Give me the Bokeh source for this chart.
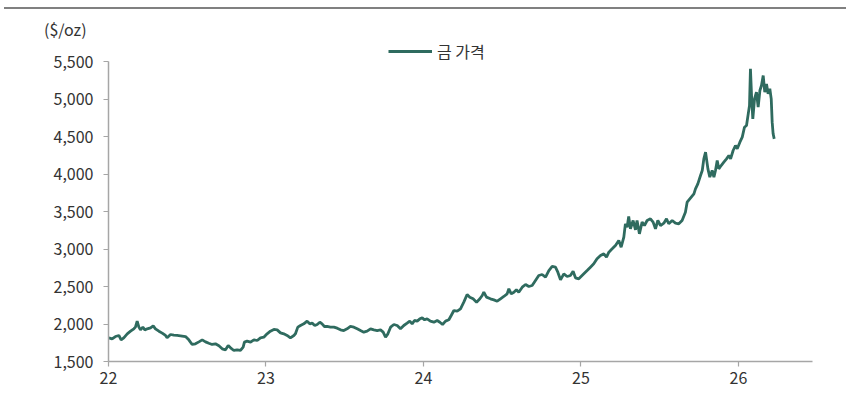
from bokeh.plotting import figure
from bokeh.models import Range1d, FixedTicker, Legend, LegendItem, NumeralTickFormatter, CustomJSTickFormatter, Div, Column
from bokeh.embed import file_html
from bokeh.resources import INLINE

# fractional year (22 = 2022) and gold price ($/oz)
years = [22.002, 22.023, 22.044, 22.066, 22.080, 22.097, 22.119, 22.140, 22.161, 22.171,
         22.182, 22.193, 22.203, 22.218, 22.231, 22.246, 22.267, 22.284, 22.298, 22.320,
         22.341, 22.362, 22.372, 22.394, 22.415, 22.436, 22.457, 22.489, 22.510, 22.531,
         22.552, 22.574, 22.595, 22.616, 22.637, 22.658, 22.679, 22.701, 22.722, 22.743,
         22.760, 22.775, 22.796, 22.817, 22.838, 22.855, 22.863, 22.880, 22.902, 22.923,
         22.944, 22.965, 22.986, 23.007, 23.028, 23.050, 23.071, 23.092, 23.113, 23.134,
         23.155, 23.177, 23.187, 23.202, 23.219, 23.240, 23.261, 23.278, 23.293, 23.310,
         23.325, 23.342, 23.356, 23.371, 23.388, 23.409, 23.431, 23.452, 23.473, 23.494,
         23.515, 23.536, 23.558, 23.579, 23.600, 23.621, 23.642, 23.664, 23.685, 23.706,
         23.727, 23.744, 23.759, 23.774, 23.791, 23.812, 23.833, 23.854, 23.875, 23.896,
         23.913, 23.928, 23.943, 23.960, 23.977, 23.992, 24.007, 24.023, 24.044, 24.066,
         24.087, 24.104, 24.121, 24.140, 24.161, 24.176, 24.193, 24.214, 24.235, 24.256,
         24.277, 24.294, 24.315, 24.337, 24.358, 24.373, 24.383, 24.400, 24.425, 24.447,
         24.468, 24.489, 24.510, 24.531, 24.542, 24.557, 24.574, 24.590, 24.605, 24.627,
         24.648, 24.669, 24.690, 24.711, 24.732, 24.753, 24.775, 24.796, 24.817, 24.838,
         24.853, 24.870, 24.891, 24.912, 24.933, 24.950, 24.965, 24.986, 25.018, 25.039,
         25.060, 25.081, 25.102, 25.124, 25.145, 25.162, 25.177, 25.198, 25.219, 25.240,
         25.255, 25.272, 25.282, 25.293, 25.303, 25.314, 25.331, 25.346, 25.356, 25.371,
         25.388, 25.403, 25.420, 25.441, 25.458, 25.473, 25.488, 25.505, 25.526, 25.543,
         25.557, 25.579, 25.600, 25.621, 25.642, 25.663, 25.674, 25.691, 25.717, 25.727,
         25.742, 25.759, 25.770, 25.780, 25.791, 25.797, 25.806, 25.818, 25.833, 25.844,
         25.854, 25.865, 25.875, 25.890, 25.907, 25.924, 25.939, 25.950, 25.966, 25.981,
         25.992, 26.009, 26.024, 26.038, 26.051, 26.062, 26.070, 26.076, 26.083, 26.091,
         26.102, 26.114, 26.125, 26.136, 26.146, 26.157, 26.167, 26.178, 26.188, 26.199,
         26.208, 26.214, 26.220, 26.227]

prices = [1816, 1802, 1833, 1847, 1789, 1816, 1869, 1904, 1936, 1958,
          2038, 1958, 1922, 1958, 1922, 1936, 1949, 1976, 1936, 1904,
          1878, 1847, 1816, 1860, 1851, 1847, 1842, 1833, 1789, 1727,
          1736, 1762, 1789, 1762, 1744, 1727, 1736, 1709, 1669, 1656,
          1713, 1682, 1647, 1656, 1647, 1691, 1758, 1771, 1758, 1789,
          1780, 1816, 1824, 1869, 1904, 1927, 1922, 1882, 1869, 1847,
          1816, 1847, 1869, 1958, 1980, 2002, 2038, 2002, 2011, 1980,
          1993, 2024, 2002, 1967, 1967, 1958, 1958, 1944, 1922, 1913,
          1936, 1967, 1958, 1936, 1913, 1891, 1904, 1936, 1922, 1913,
          1922, 1891, 1824, 1869, 1958, 1993, 1980, 1936, 1980, 2011,
          2038, 2002, 2047, 2038, 2069, 2082, 2056, 2069, 2038, 2024,
          2047, 2024, 1993, 2038, 2056, 2113, 2180, 2171, 2202, 2291,
          2393, 2358, 2336, 2291, 2336, 2380, 2424, 2358, 2336, 2322,
          2304, 2336, 2367, 2402, 2469, 2402, 2424, 2456, 2424, 2491,
          2527, 2500, 2513, 2580, 2647, 2660, 2624, 2713, 2767, 2758,
          2691, 2589, 2669, 2633, 2647, 2704, 2616, 2602, 2669, 2713,
          2758, 2802, 2869, 2913, 2935, 2891, 2958, 3002, 3047, 3113,
          3024, 3158, 3336, 3291, 3433, 3269, 3380, 3256, 3380, 3202,
          3358, 3313, 3380, 3402, 3358, 3269, 3380, 3313, 3344, 3402,
          3336, 3380, 3344, 3336, 3380, 3491, 3624, 3669, 3736, 3802,
          3869, 3980, 4047, 4202, 4291, 4202, 4069, 3958, 4047, 3958,
          4047, 4180, 4069, 4113, 4158, 4202, 4247, 4202, 4313, 4380,
          4336, 4424, 4491, 4624, 4647, 4802, 4913, 5402, 5047, 4736,
          5002, 5091, 4891, 5113, 5180, 5313, 5091, 5202, 5069, 5136,
          5002, 4691, 4536, 4469]

x_ticks = [22, 23, 24, 25, 26]
y_ticks = [1500, 2000, 2500, 3000, 3500, 4000, 4500, 5000, 5500]
series_name = "금 가격"
unit_label = "($/oz)"

FONT = "Noto Sans CJK KR"
LINE_COLOR = "#2f6b5f"
AXIS_COLOR = "#a6a6a6"
TEXT_COLOR = "#333333"
RULE_COLOR = "#808080"

# top strip: rule + unit label (canvas y 0..38)
top = Div(
    text=(f'<div style="height:7px"></div>'
          f'<div style="height:2px;width:842px;margin-left:4px;background:{RULE_COLOR}"></div>'
          f'<div style="margin-top:12px;padding-left:44px;height:17px;line-height:17px;'
          f'font-family:\'{FONT}\';font-size:16px;color:{TEXT_COLOR};white-space:nowrap">{unit_label}</div>'),
    width=850, height=38, margin=0)

# chart: frame from canvas y=38 to y=361 (323 px, 37.5 px per 500)
p = figure(width=850, height=359, output_backend="svg", toolbar_location=None,
           x_range=Range1d(22, 26.47), y_range=Range1d(1500, 1500 + 323 * 500 / 37.5),
           min_border_left=108, min_border_right=38, min_border_top=0, min_border_bottom=36,
           margin=0)
p.background_fill_color = "white"
p.border_fill_color = "white"
p.outline_line_color = None
p.grid.visible = False

r = p.line(years, prices, line_color=LINE_COLOR, line_width=2.8)

p.xaxis.ticker = FixedTicker(ticks=x_ticks)
p.yaxis.ticker = FixedTicker(ticks=y_ticks)
p.yaxis.formatter = NumeralTickFormatter(format="0,0")
p.xaxis.formatter = CustomJSTickFormatter(code="return String(Math.round(tick));")
p.yaxis.bounds = (1500, 5500)
for ax in (p.xaxis[0], p.yaxis[0]):
    ax.axis_line_color = AXIS_COLOR
    ax.axis_line_width = 1.5
    ax.major_tick_line_color = AXIS_COLOR
    ax.major_tick_line_width = 1.2
    ax.major_tick_in = 0
    ax.major_tick_out = 5
    ax.minor_tick_line_color = None
    ax.major_label_text_font = FONT
    ax.major_label_text_font_size = "16px"
    ax.major_label_text_color = TEXT_COLOR
p.yaxis.major_label_standoff = 10
p.xaxis.major_label_standoff = 5

legend = Legend(items=[LegendItem(label=series_name, renderers=[r])],
                location=(280, 298), orientation="horizontal",
                glyph_width=44, glyph_height=18, label_height=18, label_standoff=5,
                padding=0, margin=0,
                border_line_alpha=0, background_fill_alpha=0,
                label_text_font=FONT, label_text_font_size="16px", label_text_color=TEXT_COLOR)
p.add_layout(legend, "center")

bottom = Div(
    text=f'<div style="height:2px;width:842px;margin-left:4px;background:{RULE_COLOR}"></div>',
    width=850, height=10, margin=0)

layout = Column(top, p, bottom, spacing=0, margin=0)

open("out.html", "w").write(file_html(layout, INLINE))
